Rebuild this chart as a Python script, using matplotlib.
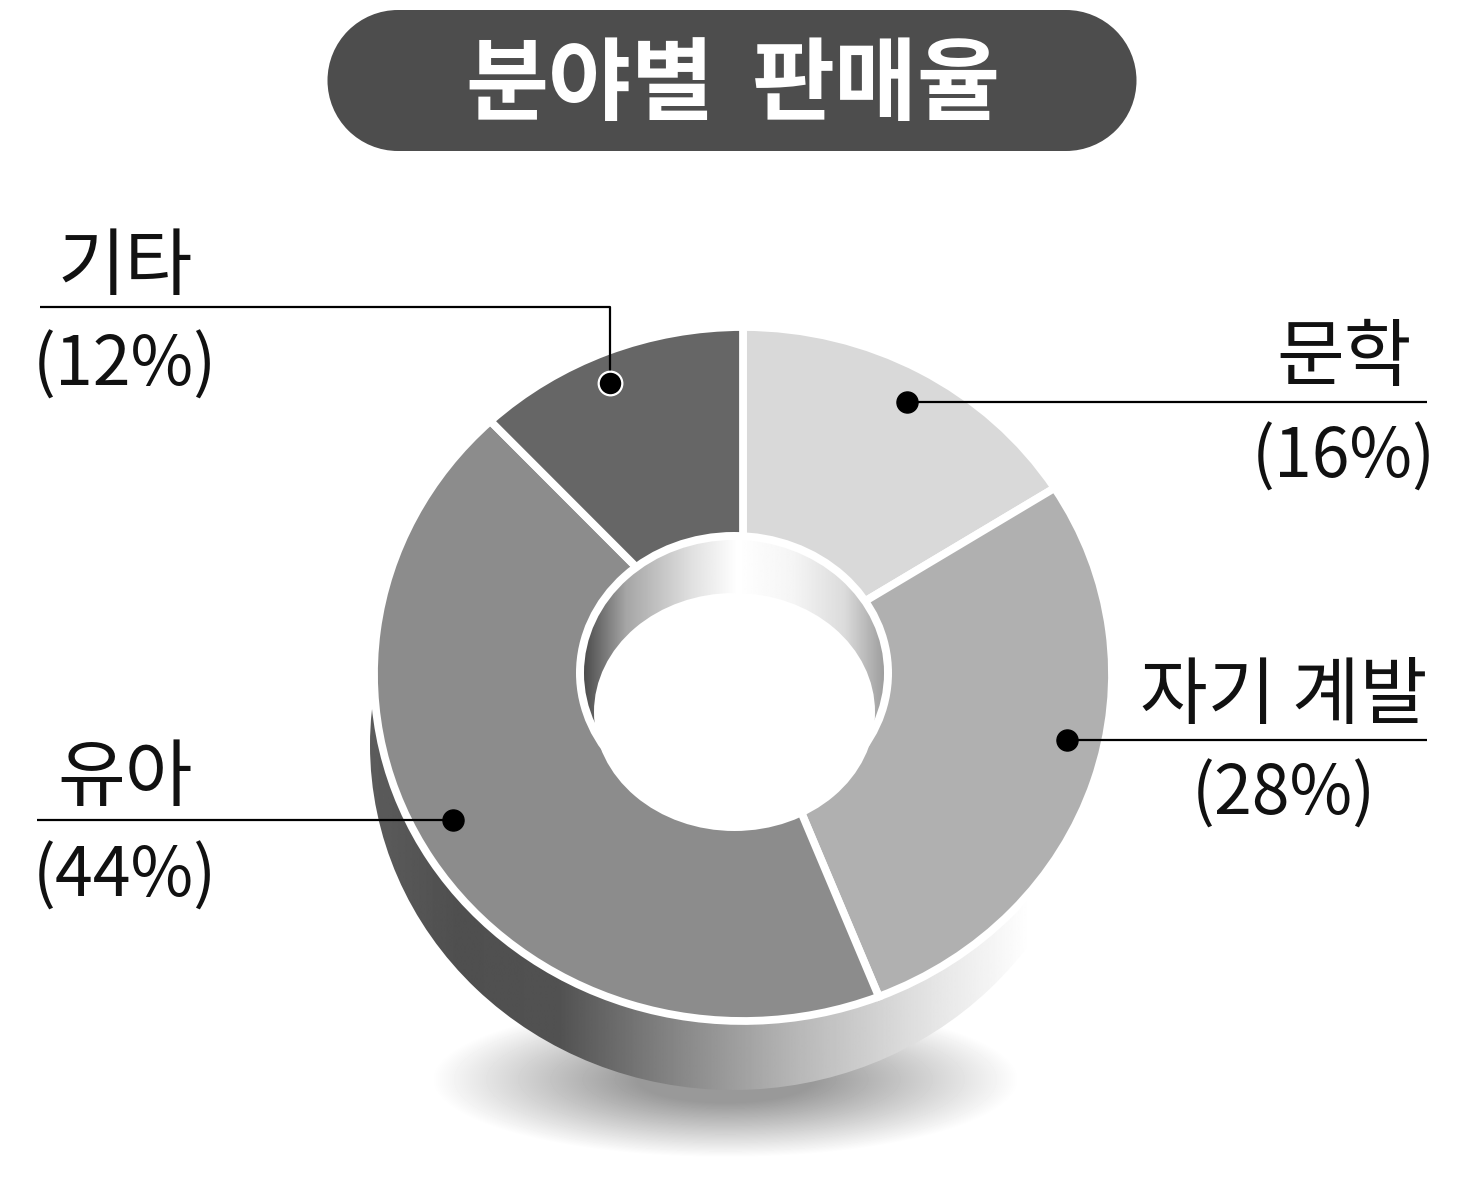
import numpy as np
import matplotlib
matplotlib.use('Agg')
import matplotlib.pyplot as plt
from matplotlib.patches import Ellipse, Rectangle

plt.rcParams['font.family'] = ['Noto Sans CJK KR', 'DejaVu Sans']

title_words = ['분야별', '판매율']
categories = ['문학', '자기 계발', '유아', '기타']
shares = [16, 28, 44, 12]
colors = ['#d9d9d9', '#b0b0b0', '#8c8c8c', '#666666']

W, H = 1465, 1181
fig = plt.figure(figsize=(W / 100, H / 100), dpi=100)
bg = fig.add_axes([0, 0, 1, 1])
bg.set_xlim(0, W)
bg.set_ylim(H, 0)
bg.axis('off')


def gradient(ax, stops, extent, clip, zorder):
    # horizontal grey gradient clipped to a patch
    xs = np.linspace(0, 1, 512)
    g = np.interp(xs, [s[0] for s in stops], [s[1] for s in stops])
    im = ax.imshow(g[None, :], cmap='gray', vmin=0, vmax=1, extent=extent,
                   aspect='auto', zorder=zorder, interpolation='bilinear')
    im.set_clip_path(clip)


# soft shadow under the ring
yy, xx = np.mgrid[960:1181, 400:1060]
d = np.sqrt(((xx - 725) / 294.0) ** 2 + ((yy - 1079) / 78.0) ** 2)
shadow = 1 - 0.40 * np.clip((1 - d) / 0.7, 0, 1)
bg.imshow(shadow, cmap='gray', vmin=0, vmax=1, extent=(400, 1060, 1181, 960),
          aspect='auto', zorder=1)

# side wall
side = Ellipse((733, 745), 726, 690, fc='none', ec='none')
bg.add_patch(side)
gradient(bg, [(0, 0.36), (0.12, 0.31), (0.26, 0.32), (0.40, 0.5), (0.59, 0.72),
              (0.78, 0.9), (0.91, 1.0), (1, 1.0)],
         (370, 1096, 1095, 705), side, 2)
bg.set_xlim(0, W)
bg.set_ylim(H, 0)

# top face, wedges come from the shares
pie_ax = fig.add_axes([(743 - 369) / W, 1 - (674 + 347) / H, 738 / W, 694 / H])
pie_ax.pie(shares, colors=colors, startangle=90, counterclock=False, radius=1.0,
           center=(0, 0), wedgeprops=dict(edgecolor='white', linewidth=5.6))
pie_ax.set_aspect('auto')
pie_ax.set_xlim(-1, 1)
pie_ax.set_ylim(-1, 1)
pie_ax.patch.set_alpha(0)
pie_ax.axis('off')
for w in pie_ax.patches:
    w.set_clip_on(False)

# hole on top of everything
fg = fig.add_axes([0, 0, 1, 1])
fg.set_xlim(0, W)
fg.set_ylim(H, 0)
fg.axis('off')
fg.patch.set_alpha(0)

fg.add_patch(Ellipse((734, 673), 316, 282, fc='white', ec='none', zorder=2))
inner = Ellipse((734, 673), 300, 266, fc='none', ec='none')
fg.add_patch(inner)
gradient(fg, [(0, 0.3), (0.14, 0.65), (0.36, 0.88), (0.51, 1.0), (0.7, 0.96),
              (0.87, 0.86), (1, 0.62)],
         (584, 884, 830, 530), inner, 3)
fg.add_patch(Ellipse((734.5, 712), 281, 238, fc='white', ec='none', zorder=4))
fg.set_xlim(0, W)
fg.set_ylim(H, 0)

# title pill
pill = '#4d4d4d'
fg.add_patch(Rectangle((398, 10), 668, 141, fc=pill, ec='none', zorder=5))
fg.add_patch(Ellipse((398, 80.5), 141, 141, fc=pill, ec='none', zorder=5))
fg.add_patch(Ellipse((1066, 80.5), 141, 141, fc=pill, ec='none', zorder=5))
fg.text(465, 86, title_words[0], color='white', fontsize=65, fontweight='bold',
        ha='left', va='center', zorder=6)
fg.text(1001, 86, title_words[1], color='white', fontsize=65, fontweight='bold',
        ha='right', va='center', zorder=6)

# leader lines
line = dict(color='black', lw=1.6, zorder=6, solid_capstyle='butt')
fg.plot([40, 610, 610], [307, 307, 383], **line)
fg.plot([907, 1427], [402, 402], **line)
fg.plot([1067, 1427], [740, 740], **line)
fg.plot([37, 453], [820, 820], **line)
fg.scatter([610], [383], s=290, c='black', edgecolors='white', linewidths=1.6, zorder=7)
fg.scatter([907, 1067, 453], [402, 740, 820], s=230, c='black', zorder=7)

# labels
name_font = dict(fontsize=53, color='#111111', va='center', ha='center', zorder=7)
pct_font = dict(fontsize=49, color='#111111', va='center', ha='center', zorder=7)
pct = [str(v) for v in shares]
fg.text(125, 268, categories[3], **name_font)
fg.text(125, 367, '(' + pct[3] + '%)', **pct_font)
fg.text(1344, 359, categories[0], **name_font)
fg.text(1344, 459, '(' + pct[0] + '%)', **pct_font)
fg.text(1284, 697, categories[1], **name_font)
fg.text(1284, 796, '(' + pct[1] + '%)', **pct_font)
fg.text(125, 779, categories[2], **name_font)
fg.text(125, 878, '(' + pct[2] + '%)', **pct_font)

fig.savefig('out.png', dpi=100)
